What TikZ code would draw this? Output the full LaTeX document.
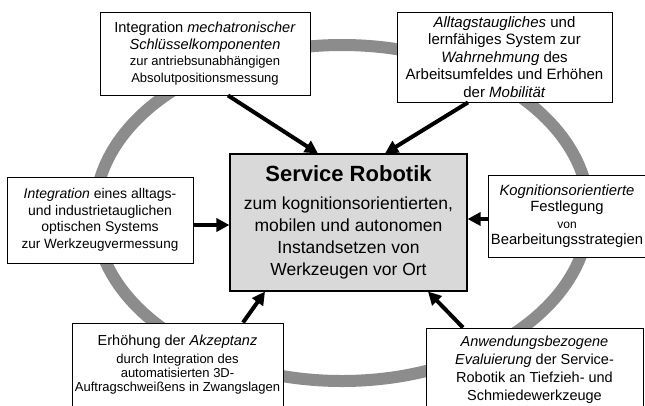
\documentclass[tikz,border=0pt]{standalone}
\usepackage{fontspec}
\setmainfont{Liberation Sans}
\usepackage{xcolor}
\usetikzlibrary{arrows.meta}
\definecolor{ringgray}{HTML}{8C8C8C}
\definecolor{corefill}{HTML}{D9D9D9}
\newcommand{\fs}[2]{\fontsize{#1}{#2}\selectfont}
\tikzset{
  topicbox/.style={draw, fill=white, line width=0.9pt, align=center, inner sep=2pt, font=\fs{14}{16.5}},
  corebox/.style={draw, fill=corefill, line width=1.1pt, align=center, inner sep=2pt, font=\fs{17.5}{22}, minimum width=237pt, minimum height=137pt},
  feedarrow/.style={-{Triangle[length=13pt,width=13pt]}, line width=4pt},
  ringline/.style={draw=ringgray, line width=12pt}
}
\begin{document}
\begin{tikzpicture}[x=1pt,y=-1pt]
\clip (0,0) rectangle (645,405);
\fill[white] (0,0) rectangle (645,405);
\draw[ringline] (342,213) ellipse [x radius=247pt, y radius=168pt];
\node[corebox] (robotik) at (348.5,222.5) {{\fs{22}{26}\bfseries Service Robotik}\\[6pt] zum kognitionsorientierten,\\ mobilen und autonomen\\ Instandsetzen von\\ Werkzeugen vor Ort};
\node[topicbox, minimum width=210pt, minimum height=83pt, font=\fs{14.6}{16.5}] (mechatronik) at (205,53.5) {Integration \textit{mechatronischer}\\ \textit{Schlüsselkomponenten}\\ {\fs{13}{16}zur antriebsunabhängigen}\\ {\fs{13}{16}Absolutpositionsmessung}};
\node[topicbox, minimum width=215pt, minimum height=90pt, font=\fs{15}{17.5}] (wahrnehmung) at (504.5,57) {\textit{Alltagstaugliches} und\\ lernfähiges System zur\\ \textit{Wahrnehmung} des\\ Arbeitsumfeldes und Erhöhen\\ der \textit{Mobilität}};
\node[topicbox, minimum width=186pt, minimum height=86pt] (vermessung) at (100,220) {\textit{Integration} eines alltags-\\ und industrietauglichen\\ optischen Systems\\ {\fs{13.5}{16}zur Werkzeugvermessung}};
\node[topicbox, minimum width=150pt, minimum height=82pt, font=\fs{14.8}{16.5}] (kognition) at (567,216) {\textit{Kognitionsorientierte}\\ Festlegung\\ {\fs{12}{16}von}\\ Bearbeitungsstrategien};
\node[topicbox, minimum width=211pt, minimum height=83pt, font=\fs{13}{14}] (akzeptanz) at (177.5,364.5) {{\fs{14.5}{17}Erhöhung der \textit{Akzeptanz}}\\[4pt] durch Integration des\\ automatisierten 3D-\\ Auftragschweißens in Zwangslagen};
\node[topicbox, minimum width=217pt, minimum height=84pt, font=\fs{14.5}{18}] (evaluierung) at (534.5,370) {\textit{Anwendungsbezogene}\\ \textit{Evaluierung} der Service-\\ Robotik an Tiefzieh- und\\ Schmiedewerkzeuge};
\draw[feedarrow] ([xshift=23pt]mechatronik.south) -- ([xshift=-30.5pt]robotik.north);
\draw[feedarrow] ([xshift=-36.5pt]wahrnehmung.south) -- ([xshift=36.5pt]robotik.north);
\draw[feedarrow] ([yshift=-5pt]vermessung.east) -- ([yshift=-2.5pt]robotik.west);
\draw[feedarrow] ([yshift=-3pt]kognition.west) -- ([yshift=3.5pt]robotik.east);
\draw[feedarrow] ([xshift=65.5pt]akzeptanz.north) -- ([xshift=-83.5pt]robotik.south);
\draw[feedarrow] ([xshift=-71.5pt]evaluierung.north) -- ([xshift=79.5pt]robotik.south);
\end{tikzpicture}
\end{document}
